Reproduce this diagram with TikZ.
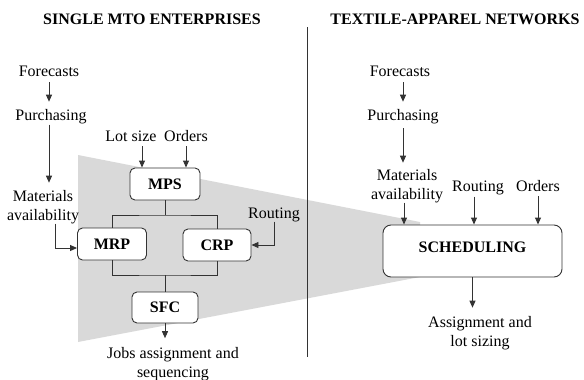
\documentclass[tikz,border=0pt]{standalone}
\usepackage{fontspec}
\setmainfont{Liberation Serif}
\usetikzlibrary{arrows.meta}
\begin{document}
\begin{tikzpicture}[x=1pt,y=-1pt,
  lbl/.style={font=\fontsize{16}{18.5}\selectfont, inner sep=0pt, align=center, anchor=base, text=black},
  ttl/.style={lbl, font=\fontsize{16}{18.5}\selectfont\bfseries},
  blk/.style={draw=black!80, line width=0.9pt, fill=white, rounded corners=5pt, inner sep=0pt,
              font=\fontsize{16}{18.5}\selectfont\bfseries, text=black},
  wire/.style={draw=black!80, line width=0.9pt},
  arr/.style={wire, -{Triangle[length=7pt,width=6pt]}},
]
\useasboundingbox (0,0) rectangle (584,380);

% shaded funnel from the single-enterprise scheme to the network scheduling
\fill[black!15] (78,155) -- (420,222) -- (420,277) -- (78,342) -- cycle;

% divider between the two halves
\draw[wire] (307,27) -- (307,357);

% headings
\node[ttl] (t1) at (152,24) {SINGLE MTO ENTERPRISES};
\node[ttl] (t2) at (455,24) {TEXTILE-APPAREL NETWORKS};

% ---------- single MTO enterprises ----------
% (two-line labels are placed by the baseline of their last line)
\node[lbl] (fc1) at (49,76) {Forecasts};
\node[lbl] (pu1) at (51,120) {Purchasing};
\node[lbl] (ma1) at (43,220) {Materials\\availability};
\node[lbl] (lot) at (131,141) {Lot size};
\node[lbl] (or1) at (186,141) {Orders};
\node[lbl] (ro1) at (274,218) {Routing};
\node[lbl] (jobs) at (173,377) {Jobs assignment and\\sequencing};

\node[blk, minimum width=70pt, minimum height=32pt] (mps) at (165,184) {MPS};
\node[blk, minimum width=69pt, minimum height=32pt] (mrp) at (112,244) {MRP};
\node[blk, minimum width=68pt, minimum height=32pt] (crp) at (217,245) {CRP};
\node[blk, minimum width=66pt, minimum height=31pt] (sfc) at (165,307.5) {SFC};

\draw[arr, shorten <=6pt, shorten >=7pt] (fc1.south) -- (fc1.south |- pu1.north);
\draw[arr, shorten <=1pt, shorten >=7.5pt] (fc1.south |- pu1.south) -- (fc1.south |- ma1.north);
\draw[arr, shorten <=5pt] ([xshift=11pt]lot.south) -- ([xshift=11pt]lot.south |- mps.north);
\draw[arr, shorten <=5pt] (or1.south) -- (or1.south |- mps.north);
\draw[arr] ([xshift=12pt]ma1.south) |- ([yshift=-4pt]mrp.west);
\draw[arr] (ro1.south) |- (crp.east);

\coordinate (split) at (165,215);
\coordinate (merge) at (165,275);
\draw[wire] (mps.south) -- (split);
\draw[wire] (mrp.north) |- (split) -| (crp.north);
\draw[wire] (mrp.south) |- (merge) -| (crp.south);
\draw[wire] (merge) -- (merge |- sfc.north);
\draw[arr, shorten >=9pt] (sfc.south) -- (sfc.south |- jobs.north);

% ---------- textile-apparel networks ----------
\node[lbl] (fc2) at (400,76) {Forecasts};
\node[lbl] (pu2) at (403,120) {Purchasing};
\node[lbl] (ma2) at (407,199) {Materials\\availability};
\node[lbl] (ro2) at (478,191) {Routing};
\node[lbl] (or2) at (538,191) {Orders};
\node[lbl] (asg) at (480,346) {Assignment and\\lot sizing};

\node[blk, rounded corners=8pt, minimum width=179pt, minimum height=52pt, text depth=8pt]
  (sch) at (472.5,251) {SCHEDULING};

\draw[arr, shorten <=6pt, shorten >=7pt] (fc2.south -| pu2.north) -- (pu2.north);
\draw[arr, shorten <=4.5pt, shorten >=6.5pt] (pu2.south) -- (pu2.south |- ma2.north);
\draw[arr] ([xshift=-3pt]ma2.south) -- ([xshift=-3pt]ma2.south |- sch.north);
\draw[arr, shorten <=2pt] ([xshift=-4pt]ro2.south) -- ([xshift=-4pt]ro2.south |- sch.north);
\draw[arr, shorten <=5pt] (or2.south) -- (or2.south |- sch.north);
\draw[arr, shorten >=8.5pt] (sch.south) -- (sch.south |- asg.north);
\end{tikzpicture}
\end{document}
